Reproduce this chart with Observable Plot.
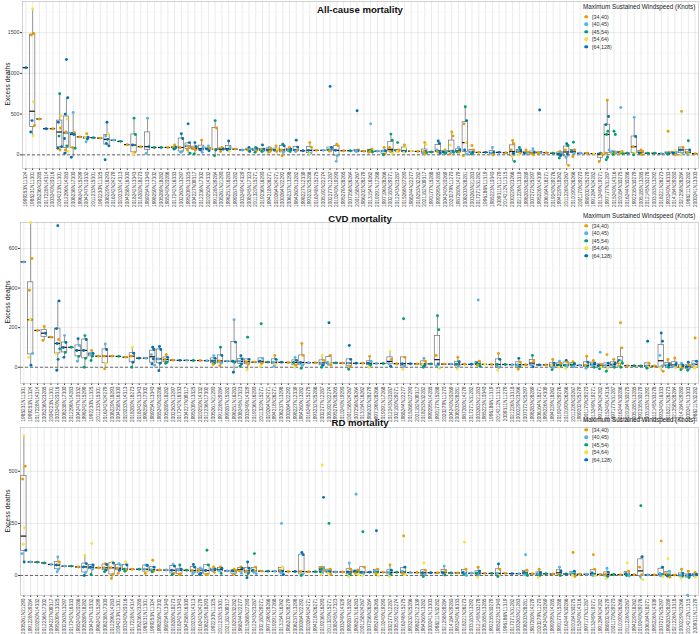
<!DOCTYPE html>
<html>
<head>
<meta charset="utf-8">
<script src="https://cdn.jsdelivr.net/npm/d3@7"></script>
<script src="https://cdn.jsdelivr.net/npm/@observablehq/plot@0.6"></script>
<style>
  body { margin: 0; background: white; }
  #root { position: relative; width: 700px; height: 634px; overflow: hidden; background: white;
          font-family: "Liberation Sans", Arial, sans-serif; }
  #root svg { position: absolute; left: 0; overflow: visible; }
  #root [aria-label^="y-axis"] text { font-size: 5.2px; }
  .ttl { position: absolute; font-weight: bold; font-size: 9.6px; color: #111; transform: translate(-50%, -50%); white-space: nowrap; }
  .ylab { position: absolute; font-size: 6.6px; color: #222; transform: translate(-50%, -50%) rotate(-90deg); white-space: nowrap; }
  .leg { position: absolute; font-size: 6.3px; color: #222; white-space: nowrap; }
  .legi { position: absolute; font-size: 5.4px; color: #333; white-space: nowrap; transform: translateY(-50%); }
  .legd { position: absolute; width: 3.6px; height: 3.6px; border-radius: 50%; transform: translate(-50%, -50%); }
</style>
</head>
<body>
<div id="root"></div>
<script>
// ---------- legend classes ----------
const windClasses = ["[34,40)", "[40,45)", "[45,54)", "[54,64)", "[64,128)"];
const windColors = ["#E69F00", "#56B4E9", "#009E73", "#F0E442", "#0072B2"];
const legendTitle = "Maximum Sustained Windspeed (Knots)";

// ---------- All-cause mortality ----------
const allCauseStorms = [
"1999253N11324","1985231N11301","2005236N23285","2017228N14314","2003240N20316","2004223N11301","2012296N14283","2008238N17300","1996242N15299","2004247N10332",
"2011233N15301","1992230N11325","2008229N18293","2016242N24279","2020233N14313","2004258N16300","2018242N13343","2018280N18273","1989254N13340","1998259N17302",
"2005289N18282","1985240N20286","2017242N16333","2002263N13297","1995209N13325","2004227N09317","2012236N17302","2020250N14332","1991228N29284","2005261N21290",
"1996251N16283","1999287N15282","2003249N14329","2008245N17323","2011320N15271","2019236N16290","1994218N26271","2020264N24271","2000264N22292","2006237N13298",
"1984260N13282","1998227N12339","1993232N25286","2016248N15275","2005192N22274","2002277N12287","2010240N19290","1995276N28265","2007256N26264","2001158N24267",
"1986202N28279","2013154N16262","2019291N17268","1997196N28266","2002180N29271","2012243N23287","2015268N27290","1988244N22277","2018253N32282","2021182N09317",
"1990177N15288","1999295N14285","2004240N20269","2020279N11270","1987280N14279","2008203N28281","2003263N21283","2017271N31282","1996186N11319","1985223N10340",
"2009311N11279","2014212N11315","2000229N23266","2021226N13318","1998283N28289","2007272N25297","1995226N14309","2006164N18271","2019240N29276","1994229N18262",
"2011226N20267","2010190N26266","2001170N29270","1989202N25279","1991294N24282","2013249N19271","1997177N31287","2015240N14316","2020184N30275","2016244N30286",
"1992235N30279","2005185N13285","2012145N33278","2003183N13292","2018221N26273","1993240N16333","2014184N29280","2021258N28284","1988211N32282","2000241N13303"];
const allCauseDeaths = [
[1070],[1790,1490,1470,650,420,360,280,230],[440],[320],[320],[750,480,400,330,230,100,80,60],[1170,700,500,440,280,270,200,110,60,40,20],[520,270,260,250,90,80,-30],[220],[260,215,210,195,160],
[210],[205],[400,260,230,190,140,110,-60],[180],[165],[125],[450,250,120,30,10],[100],[450,100,20],[90],
[90],[90],[120,95,90,80,70],[260,200,90,40,30],[380,150,110,100,60,20],[150,100,80,60,10],[180,90,60,30],[110,80,70,50],[420,330,70,60,-10],[90,70,40],
[170,90,60,40],[70],[60],[90,70,60,40],[90,75,60,50,30],[120,70,60,45,40],[90,80,60,40,30],[110,65,55,40],[130,110,60,30,-12],[90,70,50,40],
[180,95,58,50,40],[50],[150,95,55,20,15],[55],[55],[840,90,60,50,45],[130,110,55,-10,-80],[50],[50],[540,60,50,48,40],
[45],[380,70,55,45,40,35,30],[45],[90,50,45,10,0],[254,180,90,45,40,20],[150,60,50,45,40],[120,90,45,40,30],[45],[42],[150,125,45,40,35,25,20,10],
[35],[170,140,60,40,35,20],[60,40,30,20],[280,230,120,45,35,30,10],[90,60,35,30],[590,420,380,150,60,10,-10],[115,60,35,25,10],[30],[30],[90,30,20,0],
[30],[25],[176,135,60,20,-20,-82],[90,60,40,20,0],[60,30,20,10],[75,30,15,0],[550,30,25,22,20],[25],[20],[40,30,10,-10,-40],
[135,115,60,10,-30,-130],[155,60,40,20,-20],[20],[20],[15],[20,10,-82],[670,470,370,290,250,60,20,-30,-60],[290,250,40,30,25,20,15,10,5],[580,40,30,25,20,15],[20],
[460,225,100,20,0],[60,40,20,0],[20],[20],[15],[290,30,20,15,10],[50,30,20,0],[533,90,60,20,0],[172,60,30,10,0],[15]];
const allCauseWind = [
"4","30034043","0","4","0","23402440","44430142034","1044024","0","04341",
"2","0","4314444","1","2","0","22403","0","141","2",
"2","0","04024","44011","441002","44002","0141","1044","20342","040",
"4143","0","1","4104","24102","44012","10400","0340","24010","0412",
"44401","4","00413","0","1","44210","00411","0","2","40141",
"0","1042020","1","04102","220403","20403","03443","3","0","03340210",
"2","441404","0142","0034120","1420","2403410","00142","0","4","1410",
"4","0","000432","24103","0041","1400","44010","0","2","01442",
"420410","20410","1","0","3","400","044221022","221041302","104302","2",
"14032","0040","2","2","1","00142","3140","00413","24031","0"];

// ---------- CVD mortality ----------
const cvdStorms = [
"1985231N11301","1999253N11324","2017228N14314","2005236N23285","2004223N11301","2003240N20316","2008238N17300","2012296N14283","2004247N10332","1996242N15299",
"1992230N11325","2011233N15301","2016242N24279","2008229N18293","2004258N16300","2020233N14313","2018280N18273","2018242N13343","1998259N17302","1989254N13340",
"1985240N20286","2005289N18282","2002263N13297","2017242N16333","2004227N09317","1995209N13325","2020250N14332","2012236N17302","2005261N21290","1991228N29284",
"1999287N15282","1996251N16283","2008245N17323","2003249N14329","2019236N16290","2011320N15271","2020264N24271","1994218N26271","2006237N13298","2000264N22292",
"1998227N12339","1984260N13282","2016248N15275","1993232N25286","2002277N12287","2005192N22274","1995276N28265","2010240N19290","2001158N24267","2007256N26264",
"2013154N16262","1986202N28279","1997196N28266","2019291N17268","2012243N23287","2002180N29271","1988244N22277","2015268N27290","2021182N09317","2018253N32282",
"1999295N14285","1990177N15288","2020279N11270","2004240N20269","2008203N28281","1987280N14279","2017271N31282","2003263N21283","1985223N10340","1996186N11319",
"2014212N11315","2009311N11279","2021226N13318","2000229N23266","2007272N25297","1998283N28289","2006164N18271","1995226N14309","1994229N18262","2019240N29276",
"2010190N26266","2011226N20267","1989202N25279","2001170N29270","2013249N19271","1991294N24282","2015240N14316","1997177N31287","2016244N30286","2020184N30275",
"2005185N13285","1992235N30279","2003183N13292","2012145N33278","1993240N16333","2018221N26273","2021258N28284","2014184N29280","2000241N13303","1988211N32282"];
const cvdDeaths = [
[532],[731,549,389,240,240,70,50,10],[186],[206,172,135],[152],[715,335,195,140,120,93,70,40,-15],[160,125,100,75,50],[101],[144,110,85,55,30],[160,140,85,45,0],
[85,70,68,55,34],[56],[118,90,56,20,-8],[56],[55],[51],[101,71,56,25,0],[46],[46],[101,90,64,42,17,10],
[105,90,42,20,-17],[64,50,39,25,20],[36],[35],[35],[34],[34],[33],[59,45,32,20,14],[101,60,32,20,8],
[31],[240,127,30,25,-25],[59,42,30,17,5],[152,40,28,15,-13],[26],[220,45,30,20,5],[26],[60,40,25,15,5],[25],[24],
[50,35,24,10,0],[120,60,24,10,-5],[23],[23],[60,35,22,10,0],[225,60,25,22,15,10],[22],[21],[110,40,21,5,-10],[20],
[20],[55,30,20,10,0],[19],[19],[80,40,19,5],[18],[245,50,18,5,-10],[18],[17],[45,30,17,8,0],
[17],[260,190,60,17,5,-5],[16],[16],[50,28,16,5,-8],[15],[15],[340,30,20,15,10,5],[15],[14],
[70,40,14,0,-15],[14],[13],[45,25,13,3,-10],[13],[60,30,12,2],[12],[12],[40,20,11,0,-12],[30,20,11,5,0],
[35,25,10,5,-5],[28,18,10,3],[10],[56,25,10,2,-5],[34,20,10,0],[76,15,9,0,-8],[64,20,9,-5,-20],[40,20,9,0],[225,98,35,30,25,20,8,0],[8],
[8],[7],[131,20,7,0,-5],[6],[173,131,60,6,-3,-20],[39,15,5,0],[47,18,5,-3],[20,10,4,-5,-12],[25,10,3,-8,-15],[148,30,15,3,-5]];
const cvdWind = [
"1","30003134","0","040","0","444042344","14424","2","41421","24422",
"04122","0","14030","0","2","0","34042","4","1","441441",
"44144","04022","0","4","1","2","0","1","14420","24010",
"1","14424","44142","24003","0","21403","2","04131","4","0",
"14203","00412","1","0","30142","401310","2","0","44102","4",
"0","01423","1","2","3014","0","20413","4","0","10342",
"2","220413","0","1","04213","0","4","104202","3","0",
"04213","2","1","40120","0","2014","4","0","04312","10423",
"40213","0421","1","04021","0412","10432","04132","0412","00413202","0",
"2","2","40132","0","441130","0412","0413","14302","40412","04133"];

// ---------- RD mortality ----------
const rdStorms = [
"2005261N21290","1991228N29284","2020250N14332","2012236N17302","2004227N09317","1995209N13325","2002263N13297","2017242N16333","1985240N20286","2005289N18282",
"2004247N10332","1996242N15299","2008238N17300","2012296N14283","2004223N11301","2003240N20316","2017228N14314","2005236N23285","1985231N11301","1999253N11324",
"1998259N17302","1989254N13340","2018280N18273","2018242N13343","2004258N16300","2020233N14313","2016242N24279","2008229N18293","1992230N11325","2011233N15301",
"2021182N09317","2018253N32282","1988244N22277","2015268N27290","2012243N23287","2002180N29271","1997196N28266","2019291N17268","2013154N16262","1986202N28279",
"2006237N13298","2000264N22292","2020264N24271","1994218N26271","2019236N16290","2011320N15271","2008245N17323","2003249N14329","1999287N15282","1996251N16283",
"2001158N24267","2007256N26264","1995276N28265","2010240N19290","2002277N12287","2005192N22274","2016248N15275","1993232N25286","1998227N12339","1984260N13282",
"2000241N13303","1988211N32282","2021258N28284","2014184N29280","1993240N16333","2018221N26273","2003183N13292","2012145N33278","2005185N13285","1992235N30279",
"1985223N10340","1996186N11319","2017271N31282","2003263N21283","2008203N28281","1987280N14279","2020279N11270","2004240N20269","1999295N14285","1990177N15288",
"2016244N30286","2020184N30275","2015240N14316","1997177N31287","2013249N19271","1991294N24282","1989202N25279","2001170N29270","2010190N26266","2011226N20267",
"1994229N18262","2019240N29276","2006164N18271","1995226N14309","2007272N25297","1998283N28289","2021226N13318","2000229N23266","2014212N11315","2009311N11279"];
const rdDeaths = [
[670,524,463,228,150,121,105,65],[65],[64],[60],[53],[89,65,50,30,18],[45],[45],[41],[97,57,41,14,0],
[153,50,40,30,5],[37],[57,53,37,25,18],[65,60,37,5,-14],[57,50,35,25,10],[65,50,30,25,20],[30],[30],[50,48,30,18,10],[73,40,28,20,18],
[26],[26],[53,45,25,10,5],[50,30,25,8,5],[25],[53,40,24,15,8],[36,30,24,10,5],[121,50,24,5,5],[41,30,23,15],[41,35,23,10],
[22],[30,25,22,8,5],[41,35,22,10],[65,35,22,10,-11],[105,40,25,21,15,8],[21],[20],[20],[250,40,25,20,12,5],[19],
[19],[110,100,19,5,0],[18],[18],[530,375,40,35,30,25,18,12,5],[250,30,22,18,10,5],[17],[17],[60,30,17,5,-5],[390,25,20,17,10,5],
[210,40,16,8,0],[16],[215,30,20,16,8,0],[15],[50,25,15,5,-5],[15],[190,40,20,14,8,5],[14],[14],[60,25,13,3,-5],
[13],[13],[45,20,12,2],[12],[12],[160,30,15,11,5,0],[11],[40,20,11,3,-8],[10],[10],
[55,30,10,0,-5],[10],[9],[9],[100,25,15,9,3,0],[8],[30,15,8,0,-10],[8],[7],[40,20,7,0],
[7],[110,20,10,6,0,-5],[6],[6],[100,30,12,6,0,-2],[5],[35,15,5,-5,-15],[5],[4],[60,20,8,4,0,-3],
[4],[335,90,40,4,-5,-20],[3],[3],[165,40,10,3,-2,-5],[80,20,8,2,-3,-8],[2],[30,10,1,-5,-12],[20,5,0,-10,-95],[15,5,0,-8]];
const rdWind = [
"30033414","1","2","2","1","10411","1","2","0","34414",
"34412","0","04042","34000","11040","34202","0","2","14130","04102",
"0","1","14402","24100","2","44011","11044","22400","0410","0412",
"1","00410","0401","44024","204011","0","2","1","130414","0",
"4","44012","0","2","340120413","201430","1","0","10423","104203",
"20413","4","401203","0","04123","2","041203","1","0","30412",
"4","0","1042","2","0","304121","1","04213","0","2",
"40132","0","4","1","104212","0","04123","2","0","1402",
"4","041230","0","1","004213","0","14023","2","0","304121",
"0","240013","1","0","041213","310240","0","04123","04121","0413"];

// ---------- drawing ----------
const root = document.getElementById("root");
const jitterPx = [0, 1.3, -1.3, 0.65, -0.65, 1.9, -1.9, 0.3, -1.0, 1.6, -1.6];

function panel(cfg) {
  const {storms, deaths, wind, yDomain, yTicks, yMinor, top, height, marginTop, marginBottom, marginLeft,
         title, titleY, legendY, ylabY} = cfg;
  const pts = [], boxes = [];
  storms.forEach((id, i) => {
    const vals = deaths[i] || [];
    const cls = wind[i] || "";
    vals.forEach((v, k) => pts.push({id, v, cls: windClasses[+cls[k] || 0], slot: k % jitterPx.length}));
    if (!vals.length) return;
    const s = vals.slice().sort(d3.ascending);
    const q1 = d3.quantile(s, 0.25), med = d3.quantile(s, 0.5), q3 = d3.quantile(s, 0.75);
    const iqr = q3 - q1;
    const lo = d3.min(s.filter(v => v >= q1 - 1.5 * iqr));
    const hi = d3.max(s.filter(v => v <= q3 + 1.5 * iqr));
    boxes.push({id, q1, med, q3, lo, hi});
  });
  const dotMarks = jitterPx.map((dx, s) =>
    Plot.dot(pts.filter(p => p.slot === s), {x: "id", y: "v", fill: "cls", r: 1.45, dx}));
  const svg = Plot.plot({
    width: 700, height, marginTop, marginBottom, marginLeft, marginRight: 2,
    style: {fontFamily: "'Liberation Sans', Arial, sans-serif", fontSize: "4.8px", color: "#3d3d3d",
            background: "transparent", overflow: "visible"},
    x: {type: "band", domain: storms, padding: 0, tickRotate: -90, tickSize: 2, tickPadding: 1,
        label: null, grid: true},
    y: {domain: yDomain, ticks: yTicks, tickFormat: d => String(d), tickSize: 2, tickPadding: 1.2,
        label: null, grid: true},
    color: {domain: windClasses, range: windColors},
    marks: [
      Plot.ruleY(yMinor, {stroke: "#f3f3f3", strokeWidth: 0.5}),
      Plot.frame({stroke: "#b5b5b5", strokeWidth: 0.6}),
      Plot.ruleY([0], {stroke: "#333", strokeDasharray: "3,2", strokeWidth: 0.7}),
      Plot.ruleX(boxes, {x: "id", y1: "lo", y2: "q1", stroke: "#707070", strokeWidth: 0.7}),
      Plot.ruleX(boxes, {x: "id", y1: "q3", y2: "hi", stroke: "#707070", strokeWidth: 0.7}),
      Plot.barY(boxes, {x: "id", y1: "q1", y2: "q3", fill: "none", stroke: "#707070", strokeWidth: 0.7,
                        insetLeft: 0.7, insetRight: 0.7}),
      Plot.tickY(boxes, {x: "id", y: "med", stroke: "#111", strokeWidth: 1.2, insetLeft: 0.7, insetRight: 0.7}),
      ...dotMarks
    ]
  });
  svg.style.top = top + "px";
  root.appendChild(svg);

  const t = document.createElement("div");
  t.className = "ttl"; t.textContent = title;
  t.style.left = "360px"; t.style.top = titleY + "px";
  root.appendChild(t);

  const yl = document.createElement("div");
  yl.className = "ylab"; yl.textContent = "Excess deaths";
  yl.style.left = "7px"; yl.style.top = ylabY + "px";
  root.appendChild(yl);

  const lt = document.createElement("div");
  lt.className = "leg"; lt.textContent = legendTitle;
  lt.style.left = "583px"; lt.style.top = (legendY - 4) + "px";
  root.appendChild(lt);
  windClasses.forEach((c, k) => {
    const cy = legendY + 9.7 + 7.5 * k;
    const d = document.createElement("div");
    d.className = "legd"; d.style.background = windColors[k];
    d.style.left = "586px"; d.style.top = cy + "px";
    root.appendChild(d);
    const l = document.createElement("div");
    l.className = "legi"; l.textContent = c;
    l.style.left = "592px"; l.style.top = cy + "px";
    root.appendChild(l);
  });
}

panel({storms: allCauseStorms, deaths: allCauseDeaths, wind: allCauseWind,
  yDomain: [-168, 1882], yTicks: [0, 500, 1000, 1500], yMinor: [250, 750, 1250, 1750],
  top: 0, height: 208, marginTop: 1, marginBottom: 40, marginLeft: 22,
  title: "All-cause mortality", titleY: 9, legendY: 7, ylabY: 84});
panel({storms: cvdStorms, deaths: cvdDeaths, wind: cvdWind,
  yDomain: [-82, 731], yTicks: [0, 200, 400, 600], yMinor: [100, 300, 500, 700],
  top: 208, height: 212, marginTop: 14, marginBottom: 37, marginLeft: 20,
  title: "CVD mortality", titleY: 218, legendY: 216, ylabY: 302});
panel({storms: rdStorms, deaths: rdDeaths, wind: rdWind,
  yDomain: [-96, 710], yTicks: [0, 250, 500], yMinor: [125, 375, 625],
  top: 420, height: 214, marginTop: 7, marginBottom: 39, marginLeft: 20,
  title: "RD mortality", titleY: 422, legendY: 420, ylabY: 511});
</script>
</body>
</html>
